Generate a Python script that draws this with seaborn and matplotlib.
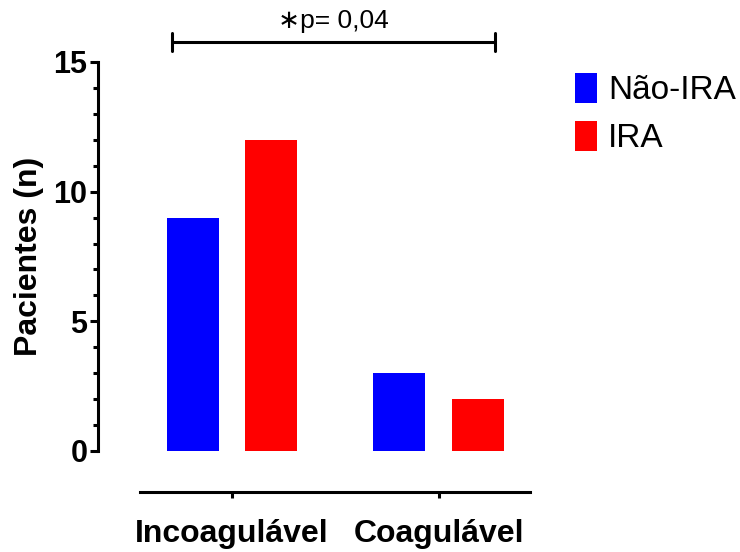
import matplotlib
matplotlib.use("Agg")
import matplotlib.pyplot as plt
import seaborn as sns
import pandas as pd
from matplotlib.ticker import MultipleLocator

categories = ["Incoagulável", "Coagulável"]
groups = ["Não-IRA", "IRA"]
nao_ira = [9, 3]
ira = [12, 2]
colors = ["#0000FF", "#FF0000"]
yticks = [0, 5, 10, 15]
p_text = "∗p= 0,04"

rows = []
for c, a, b in zip(categories, nao_ira, ira):
    rows.append({"cat": c, "grp": groups[0], "n": a})
    rows.append({"cat": c, "grp": groups[1], "n": b})
df = pd.DataFrame(rows)

sns.set_theme(style="white")
plt.rcParams["font.family"] = ["Liberation Sans", "DejaVu Sans"]
for k in ["text.color", "axes.labelcolor", "xtick.color", "ytick.color"]:
    plt.rcParams[k] = "black"

fig = plt.figure(figsize=(7.4, 5.52), dpi=100)
ax = fig.add_axes([98/740, 101/552, 432/740, 389/552])

sns.barplot(data=df, x="cat", y="n", hue="grp", order=categories, hue_order=groups,
            palette=colors, width=0.757, gap=0.335, linewidth=0, saturation=1,
            errorbar=None, ax=ax)

ax.set_xlim(-0.649, 1.443)
ax.set_ylim(0, 15)
ax.set_yticks(yticks)
ax.yaxis.set_minor_locator(MultipleLocator(1))

for s in ["top", "right"]:
    ax.spines[s].set_visible(False)
for s in ["left", "bottom"]:
    ax.spines[s].set_linewidth(2.2)
    ax.spines[s].set_color("black")
ax.spines["bottom"].set_position(("outward", 29.5))
ax.spines["bottom"].set_bounds(-0.446, 1.443)

ax.tick_params(axis="y", which="major", direction="out", length=6, width=2.2,
               color="black", left=True, pad=1.5, labelsize=22)
ax.tick_params(axis="y", which="minor", direction="out", length=3.5, width=2.2,
               color="black", left=True)
ax.tick_params(axis="x", which="major", direction="out", length=4.5, width=2.2,
               color="black", bottom=True, pad=15, labelsize=23)
for lab in ax.get_xticklabels() + ax.get_yticklabels():
    lab.set_fontweight("bold")
    lab.set_color("black")

ax.set_xlabel("")
ax.set_ylabel("Pacientes (n)", fontsize=23, fontweight="bold", color="black")
ax.yaxis.set_label_coords(-0.125, 0.5)

# significance bracket
x0, x1, yb, cap = -0.29, 1.274, 15.77, 0.35
ax.plot([x0, x1], [yb, yb], color="black", lw=2.2, clip_on=False)
ax.plot([x0, x0], [yb - cap, yb + cap], color="black", lw=2.2, clip_on=False)
ax.plot([x1, x1], [yb - cap, yb + cap], color="black", lw=2.2, clip_on=False)
ax.text(0.49, 16.12, p_text, ha="center", va="bottom", fontsize=19, color="black",
        clip_on=False)

fs = 24
fpx = fs * 100 / 72
leg = ax.legend(frameon=False, fontsize=fs, handlelength=22/fpx, handleheight=33/fpx,
                handletextpad=11/fpx, labelspacing=0.45, borderpad=0, borderaxespad=0,
                loc="upper left", bbox_to_anchor=(575/740, (552-73)/552),
                bbox_transform=fig.transFigure)
for t in leg.get_texts():
    t.set_color("black")

fig.savefig("out.png", dpi=100)
